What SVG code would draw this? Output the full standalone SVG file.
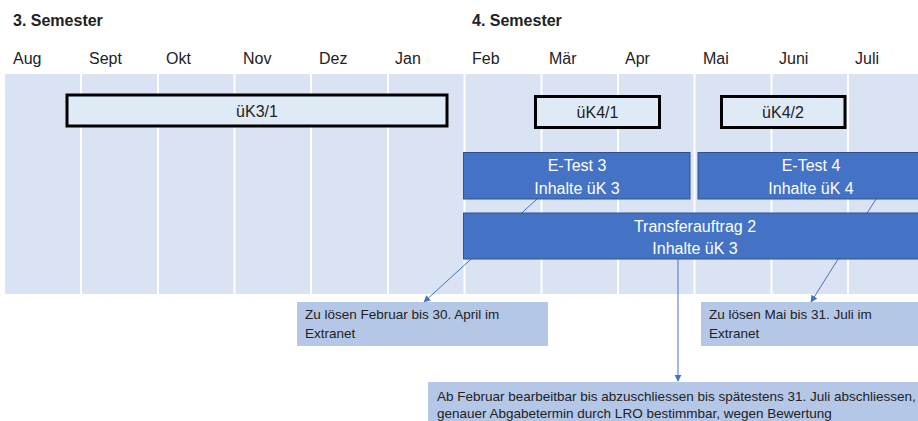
<svg xmlns="http://www.w3.org/2000/svg" width="918" height="421" viewBox="0 0 918 421">
<style>
text{font-family:"Liberation Sans",Arial,sans-serif;fill:#222}
.sem{font-weight:bold;font-size:16px}
.mon{font-size:16px}
.uk{fill:#DEEBF7;stroke:#000;stroke-width:3}
.ukt{font-size:16px;text-anchor:middle}
.blue{fill:#4472C4;stroke:#2F528F;stroke-width:1}
.bt{font-size:16px;text-anchor:middle;fill:#fff}
.note{fill:#B4C7E7}
.nt{font-size:13.5px}
.div{stroke:#fff;stroke-width:2}
.con{stroke:#4472C4;stroke-width:1;fill:none;marker-end:url(#ah)}
</style>
<defs>
<marker id="ah" viewBox="0 0 10 10" refX="9" refY="5" markerWidth="7" markerHeight="7" orient="auto" markerUnits="userSpaceOnUse">
<path d="M0,0 L10,5 L0,10 z" fill="#4472C4"/>
</marker>
</defs>
<rect width="918" height="421" fill="#fff"/>
<g id="headers">
<text class="sem" x="13" y="26">3. Semester</text>
<text class="sem" x="472" y="26">4. Semester</text>
<text class="mon" x="13" y="64">Aug</text>
<text class="mon" x="89" y="64">Sept</text>
<text class="mon" x="166" y="64">Okt</text>
<text class="mon" x="243" y="64">Nov</text>
<text class="mon" x="319" y="64">Dez</text>
<text class="mon" x="395" y="64">Jan</text>
<text class="mon" x="472" y="64">Feb</text>
<text class="mon" x="549" y="64">Mär</text>
<text class="mon" x="625" y="64">Apr</text>
<text class="mon" x="703" y="64">Mai</text>
<text class="mon" x="779" y="64">Juni</text>
<text class="mon" x="855" y="64">Juli</text>
</g>
<g id="timeline">
<rect x="5" y="74" width="913" height="220" fill="#DAE3F3"/>
<line class="div" x1="81" y1="74" x2="81" y2="294"/>
<line class="div" x1="158" y1="74" x2="158" y2="294"/>
<line class="div" x1="234.5" y1="74" x2="234.5" y2="294"/>
<line class="div" x1="311" y1="74" x2="311" y2="294"/>
<line class="div" x1="388" y1="74" x2="388" y2="294"/>
<line class="div" x1="464.5" y1="74" x2="464.5" y2="294"/>
<line class="div" x1="541.5" y1="74" x2="541.5" y2="294"/>
<line class="div" x1="618" y1="74" x2="618" y2="294"/>
<line class="div" x1="694.5" y1="74" x2="694.5" y2="294"/>
<line class="div" x1="771.5" y1="74" x2="771.5" y2="294"/>
<line class="div" x1="848" y1="74" x2="848" y2="294"/>
</g>
<g id="connectors">
<line class="con" x1="537" y1="199" x2="424" y2="302"/>
<line class="con" x1="876" y1="199" x2="811" y2="302"/>
<line class="con" x1="678" y1="259" x2="678" y2="381"/>
</g>
<g id="uk3-1">
<rect class="uk" x="67" y="95" width="380" height="31"/>
<text class="ukt" x="257" y="117">üK3/1</text>
</g>
<g id="uk4-1">
<rect class="uk" x="535.5" y="96.5" width="124" height="31"/>
<text class="ukt" x="597.5" y="118">üK4/1</text>
</g>
<g id="uk4-2">
<rect class="uk" x="721.5" y="96.5" width="123.5" height="31"/>
<text class="ukt" x="783" y="118">üK4/2</text>
</g>
<g id="etest3">
<rect class="blue" x="463.5" y="152.5" width="226.5" height="46.5"/>
<text class="bt" x="577" y="171">E-Test 3</text>
<text class="bt" x="577" y="194">Inhalte üK 3</text>
</g>
<g id="etest4">
<rect class="blue" x="698" y="152.5" width="225" height="46.5"/>
<text class="bt" x="811" y="171">E-Test 4</text>
<text class="bt" x="811" y="194">Inhalte üK 4</text>
</g>
<g id="transfer">
<rect class="blue" x="463.5" y="213" width="460" height="46"/>
<text class="bt" x="695" y="231.5">Transferauftrag 2</text>
<text class="bt" x="695" y="254">Inhalte üK 3</text>
</g>
<g id="note1">
<rect class="note" x="297" y="302" width="251" height="44"/>
<text class="nt" x="305" y="319">Zu lösen Februar bis 30. April im</text>
<text class="nt" x="305" y="338">Extranet</text>
</g>
<g id="note2">
<rect class="note" x="701" y="302" width="217" height="44"/>
<text class="nt" x="709" y="319">Zu lösen Mai bis 31. Juli im</text>
<text class="nt" x="709" y="338">Extranet</text>
</g>
<g id="note3">
<rect class="note" x="428" y="382" width="490" height="39"/>
<text class="nt" x="437" y="400.5">Ab Februar bearbeitbar bis abzuschliessen bis spätestens 31. Juli abschliessen,</text>
<text class="nt" x="437" y="418">genauer Abgabetermin durch LRO bestimmbar, wegen Bewertung</text>
</g>
</svg>
